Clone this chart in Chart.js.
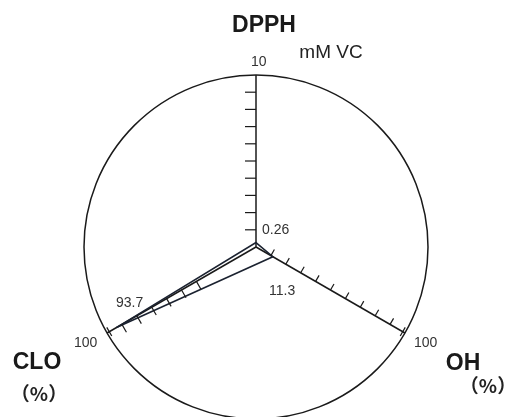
<!DOCTYPE html>
<html>
<head>
<meta charset="utf-8">
<script src="https://cdn.jsdelivr.net/npm/chart.js@4"></script>
<style>
  html, body { margin: 0; padding: 0; background: #fff; overflow: hidden; }
  #wrap { width: 509px; height: 422px; position: relative; }
</style>
</head>
<body>
<div id="wrap"><canvas id="radar"></canvas></div>
<script>
// axes and values
const categories = ['DPPH', 'OH', 'CLO'];
const units = ['mM VC', '（%）', '（%）'];
const values = [0.26, 11.3, 93.7];
const axisMax = [10, 100, 100];
const maxLabels = ['10', '100', '100'];
const valueLabels = ['0.26', '11.3', '93.7'];
const axisTicks = [
  [1, 2, 3, 4, 5, 6, 7, 8, 9],
  [10, 20, 30, 40, 50, 60, 70, 80, 90],
  [40, 50, 60, 70, 80, 90]
];

// every axis drawn on one 0..100 radial scale
const scaled = values.map((v, i) => v / axisMax[i] * 100);

const axisDecor = {
  id: 'axisDecor',
  afterDraw(chart) {
    const ctx = chart.ctx;
    const r = chart.scales.r;
    ctx.save();
    ctx.strokeStyle = '#1a1a1a';
    ctx.lineWidth = 1.2;

    // tick marks, side: -1 / +1 picks which side of the axis
    const tickLen = [11, 7, 9];
    const side = [-1, -1, -1];
    categories.forEach((c, i) => {
      const p0 = r.getPointPositionForValue(i, 0);
      const p1 = r.getPointPositionForValue(i, 100);
      const dx = p1.x - p0.x, dy = p1.y - p0.y;
      const len = Math.hypot(dx, dy);
      const nx = -dy / len * side[i], ny = dx / len * side[i];
      axisTicks[i].forEach(t => {
        const p = r.getPointPositionForValue(i, t / axisMax[i] * 100);
        ctx.beginPath();
        ctx.moveTo(p.x, p.y);
        ctx.lineTo(p.x + nx * tickLen[i], p.y + ny * tickLen[i]);
        ctx.stroke();
      });
      if (i > 0) {
        const p = r.getPointPositionForValue(i, 98.5);
        ctx.beginPath();
        ctx.moveTo(p.x - nx * 5, p.y - ny * 5);
        ctx.lineTo(p.x + nx * 5, p.y + ny * 5);
        ctx.stroke();
      }
    });

    // small numbers
    ctx.fillStyle = '#333';
    ctx.font = '14px "Liberation Sans", Arial, sans-serif';
    ctx.textAlign = 'left';
    ctx.textBaseline = 'alphabetic';
    ctx.fillText(maxLabels[0], 251, 66);
    ctx.fillText(maxLabels[1], 414, 347);
    ctx.fillText(maxLabels[2], 74, 347);
    ctx.fillText(valueLabels[0], 262, 234);
    ctx.fillText(valueLabels[1], 269, 295);
    ctx.fillText(valueLabels[2], 116, 307);

    // axis names
    ctx.fillStyle = '#1a1a1a';
    ctx.font = 'bold 23px "Liberation Sans", Arial, sans-serif';
    ctx.textAlign = 'center';
    ctx.fillText(categories[0], 264, 32);
    ctx.fillText(categories[1], 463, 370);
    ctx.fillText(categories[2], 37, 369);

    ctx.fillStyle = '#222';
    ctx.font = '19px "Liberation Sans", Arial, sans-serif';
    ctx.fillText(units[0], 331, 58);
    ctx.font = 'bold 19px "Noto Sans CJK JP", sans-serif';
    ctx.fillText(units[1], 488, 393);
    ctx.fillText(units[2], 39, 401);
    ctx.restore();
  }
};

new Chart(document.getElementById('radar'), {
  type: 'radar',
  data: {
    labels: categories,
    datasets: [{
      data: scaled,
      borderColor: '#1b2230',
      borderWidth: 1.6,
      fill: false,
      pointRadius: 0,
      tension: 0
    }]
  },
  options: {
    responsive: true,
    maintainAspectRatio: false,
    animation: false,
    layout: { padding: { top: 75, left: 84, right: 81, bottom: 2 } },
    plugins: { legend: { display: false }, tooltip: { enabled: false } },
    scales: {
      r: {
        min: 0,
        max: 100,
        ticks: { display: false, stepSize: 100 },
        pointLabels: { display: false },
        grid: { circular: true, color: '#1a1a1a', lineWidth: 1.5 },
        angleLines: { display: true, color: '#1a1a1a', lineWidth: 1.5 }
      }
    }
  },
  plugins: [axisDecor]
});
</script>
</body>
</html>
